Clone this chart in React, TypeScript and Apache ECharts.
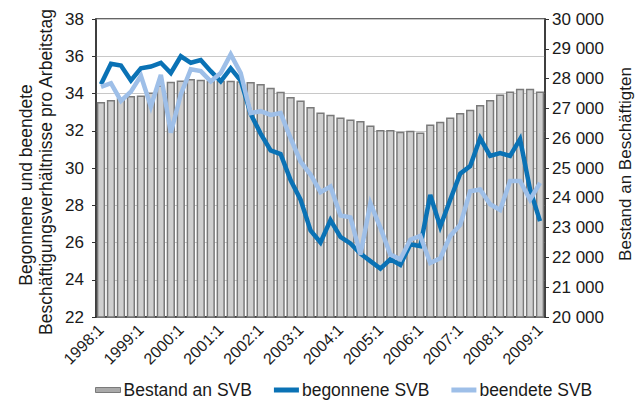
import React, { useEffect, useRef } from "react";
import * as echarts from "echarts";

const quarters = [
  "1998:1", "1998:2", "1998:3", "1998:4",
  "1999:1", "1999:2", "1999:3", "1999:4",
  "2000:1", "2000:2", "2000:3", "2000:4",
  "2001:1", "2001:2", "2001:3", "2001:4",
  "2002:1", "2002:2", "2002:3", "2002:4",
  "2003:1", "2003:2", "2003:3", "2003:4",
  "2004:1", "2004:2", "2004:3", "2004:4",
  "2005:1", "2005:2", "2005:3", "2005:4",
  "2006:1", "2006:2", "2006:3", "2006:4",
  "2007:1", "2007:2", "2007:3", "2007:4",
  "2008:1", "2008:2", "2008:3", "2008:4",
  "2009:1",
];

// Bestand an SVB (right axis, thousands)
const bestand = [
  27215, 27282, 27350, 27416, 27436, 27530, 27772, 27896, 27940, 27987,
  27960, 27930, 27930, 27930, 27910, 27886, 27819, 27695, 27560, 27383,
  27268, 27047, 26866, 26789, 26698, 26631, 26577, 26430, 26275, 26275,
  26218, 26252, 26195, 26463, 26554, 26698, 26846, 26956, 27114, 27282,
  27470, 27570, 27661, 27661, 27570,
];

// begonnene SVB (left axis)
const begonnene = [
  34.5, 35.6, 35.5, 34.7, 35.35, 35.45, 35.65, 35.1, 36.0, 35.65,
  35.8, 35.2, 34.65, 35.35, 34.7, 32.9, 31.85, 30.95, 30.75, 29.35,
  28.3, 26.65, 26.0, 27.2, 26.3, 25.95, 25.4, 25.0, 24.6, 25.1,
  24.8, 25.9, 25.8, 28.55, 26.85, 28.3, 29.7, 30.1, 31.6, 30.65,
  30.8, 30.65, 31.55, 28.85, 27.15,
];

// beendete SVB (left axis)
const beendete = [
  34.35, 34.55, 33.6, 34.1, 34.95, 33.3, 35.0, 31.9, 33.95, 35.3,
  35.2, 34.65, 35.1, 36.1, 35.1, 32.95, 33.05, 32.85, 32.95, 31.6,
  30.35, 29.65, 28.7, 29.0, 27.45, 27.35, 25.35, 28.1, 26.8, 25.35,
  25.1, 26.15, 26.35, 24.9, 25.15, 26.35, 26.95, 28.75, 28.85, 28.05,
  27.75, 29.3, 29.3, 28.3, 29.2,
];

const seriesNames = ["Bestand an SVB", "begonnene SVB", "beendete SVB"];
const leftTitle = ["Begonnene und beendete", "Beschäftigungsverhältnisse pro Arbeitstag"];
const rightTitle = "Bestand an Beschäftigten";

const FONT = '"Liberation Sans", Arial, Helvetica, sans-serif';
const TEXT = "#1a1a1a";
const AXIS = "#333333";
const DARK = "#0a72b5";
const LIGHT = "#9ebfe8";

export default function App() {
  const ref = useRef<HTMLDivElement>(null);
  useEffect(() => {
    document.body.style.margin = "0";
    const chart = echarts.init(ref.current!, null, { renderer: "svg" });
    chart.setOption({
      animation: false,
      textStyle: { fontFamily: FONT, color: TEXT },
      grid: {
        left: 96,
        right: 93,
        top: 19,
        bottom: 85,
        show: true,
        borderColor: AXIS,
        borderWidth: 1.5,
        backgroundColor: "transparent",
      },
      legend: {
        left: 90,
        top: 381,
        padding: [0, 5, 0, 5],
        itemWidth: 25,
        itemHeight: 5,
        itemGap: 22,
        textStyle: { fontSize: 17.5, color: TEXT, fontFamily: FONT, padding: [0, 0, 0, -2] },
        data: [
          { name: seriesNames[0], icon: "rect", itemStyle: { color: "#a9a9a9", borderColor: "#7a7a7a", borderWidth: 1 } },
          { name: seriesNames[1], icon: "rect", itemStyle: { color: DARK, borderWidth: 0 } },
          { name: seriesNames[2], icon: "rect", itemStyle: { color: LIGHT, borderWidth: 0 } },
        ],
      },
      xAxis: {
        type: "category",
        data: quarters,
        boundaryGap: true,
        axisLine: { lineStyle: { color: AXIS, width: 1.5 } },
        axisTick: { interval: 1, length: 4, lineStyle: { color: AXIS, width: 1 } },
        axisLabel: {
          interval: 3,
          rotate: 45,
          fontSize: 16,
          color: TEXT,
          fontFamily: FONT,
          margin: 10,
        },
        splitLine: { show: false },
      },
      yAxis: [
        {
          type: "value",
          min: 22,
          max: 38,
          interval: 2,
          position: "left",
          axisLine: { show: true, lineStyle: { color: AXIS, width: 1.5 } },
          axisTick: { show: true, length: 4, lineStyle: { color: AXIS } },
          axisLabel: { fontSize: 17, color: TEXT, fontFamily: FONT, margin: 12 },
          splitLine: { show: true, lineStyle: { color: "#c8c8c8", width: 1.2 } },
        },
        {
          type: "value",
          min: 20000,
          max: 30000,
          interval: 1000,
          position: "right",
          axisLine: { show: true, lineStyle: { color: AXIS, width: 1.5 } },
          axisTick: { show: true, length: 4, lineStyle: { color: AXIS } },
          axisLabel: {
            fontSize: 17,
            color: TEXT,
            fontFamily: FONT,
            margin: 7,
            formatter: (v: number) => {
              const s = String(Math.round(v));
              return s.slice(0, s.length - 3) + " " + s.slice(-3);
            },
          },
          splitLine: { show: false },
        },
      ],
      series: [
        {
          name: seriesNames[0],
          type: "bar",
          yAxisIndex: 1,
          data: bestand,
          barCategoryGap: "17%",
          itemStyle: { color: "#cfcfcf", borderColor: "#7a7a7a", borderWidth: 1.5 },
        },
        {
          name: seriesNames[1],
          type: "line",
          yAxisIndex: 0,
          data: begonnene,
          symbol: "none",
          lineStyle: { color: DARK, width: 4.5, join: "miter" },
          itemStyle: { color: DARK },
        },
        {
          name: seriesNames[2],
          type: "line",
          yAxisIndex: 0,
          data: beendete,
          symbol: "none",
          lineStyle: { color: LIGHT, width: 4.5, join: "miter" },
          itemStyle: { color: LIGHT },
        },
      ],
      graphic: [
        {
          type: "text",
          x: 26,
          y: 185,
          rotation: Math.PI / 2,
          style: { text: leftTitle[0], fontSize: 17.5, fontFamily: FONT, fill: TEXT, align: "center", verticalAlign: "middle" },
        },
        {
          type: "text",
          x: 46,
          y: 172,
          rotation: Math.PI / 2,
          style: { text: leftTitle[1], fontSize: 17.5, fontFamily: FONT, fill: TEXT, align: "center", verticalAlign: "middle" },
        },
        {
          type: "text",
          x: 625,
          y: 164,
          rotation: Math.PI / 2,
          style: { text: rightTitle, fontSize: 17, fontFamily: FONT, fill: TEXT, align: "center", verticalAlign: "middle" },
        },
      ],
    });
    return () => chart.dispose();
  }, []);
  return <div ref={ref} style={{ width: 638, height: 402 }} />;
}
